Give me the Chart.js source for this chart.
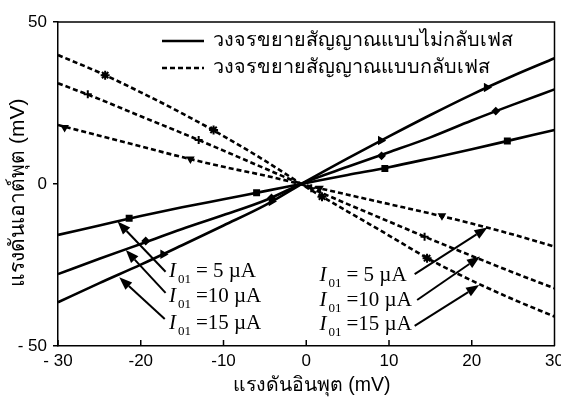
<!DOCTYPE html>
<html><head><meta charset="utf-8">
<script src="https://cdn.jsdelivr.net/npm/chart.js@4.4.1/dist/chart.umd.min.js"></script>
<style>html,body{margin:0;padding:0;background:#fff}#wrap{width:561px;height:403px}</style>
</head><body><div id="wrap"><canvas id="c"></canvas></div>
<script>
// input voltage (mV)
const inputMv = [-30,-25,-20,-15,-10,-5,0,5,10,15,20,25,30];
// non-inverting amplifier output (mV), solid lines
const nonInv5  = [-15.7,-12.8,-9.9,-7.2,-4.7,-2.2,0.3,2.8,5.2,7.9,10.7,13.7,16.7];
const nonInv10 = [-27.8,-23.1,-18.5,-13.9,-9.6,-5.1,0.7,5.3,9.8,14.4,19.6,24.5,29.2];
const nonInv15 = [-36.5,-30.6,-24.9,-18.9,-12.8,-6.6,0.85,7.9,14.7,21.3,27.6,33.4,38.8];
// inverting amplifier output (mV), dashed lines
const inv5  = [18.2,14.9,11.6,8.3,5.3,2.6,-0.4,-3.3,-6.2,-9.1,-12.2,-15.6,-19.3];
const inv10 = [31.1,26.2,20.9,15.7,10.3,4.8,-0.7,-6.2,-11.6,-17.0,-22.2,-27.3,-32.2];
const inv15 = [39.8,34.4,28.3,21.8,14.8,7.2,-0.95,-8.5,-15.9,-23.4,-29.8,-35.6,-40.9];

// marker samples along each curve
const markNonInv5X  = [-21.4,-6.0,9.5,24.3];   const markNonInv5Y  = [-10.6,-2.7,4.8,13.3];
const markNonInv10X = [-19.4,-4.2,9.1,22.9];   const markNonInv10Y = [-17.6,-4.3,8.7,22.5];
const markNonInv15X = [-17.3,-4.2,9.0,21.8];   const markNonInv15Y = [-21.7,-5.4,13.4,29.8];
const markInv5X  = [-29.2,-14.0,1.6,16.4];     const markInv5Y  = [17.4,7.7,-1.3,-9.8];
const markInv10X = [-26.4,-13.0,0.6,14.3];     const markInv10Y = [27.7,13.6,-1.3,-16.3];
const markInv15X = [-24.3,-11.2,1.9,14.6];     const markInv15Y = [33.6,16.7,-3.9,-22.9];

const xTickText = ['- 30','-20','-10','0','10','20','30'];
const yTickText = ['- 50','0','50'];
const legendText = ['วงจรขยายสัญญาณแบบไม่กลับเฟส','วงจรขยายสัญญาณแบบกลับเฟส'];
const currentText = ['= 5 µA','=10 µA','=15 µA'];
const NB = '\u00A0';

const SANS = '"Liberation Sans", "DejaVu Sans", Arial, sans-serif';
const SERIF = '"Liberation Serif", "DejaVu Serif", serif';

const pts = ys => inputMv.map((x, i) => ({x, y: ys[i]}));
const mpts = (xs, ys) => xs.map((x, i) => ({x, y: ys[i]}));

function curve(ys, dashed) {
  return {type: 'line', data: pts(ys), borderColor: '#000', borderWidth: 2.6,
    borderDash: dashed ? [5, 3] : [], pointRadius: 0, cubicInterpolationMode: 'monotone', fill: false};
}
function marks(xs, ys, style, r, rot) {
  return {type: 'scatter', data: mpts(xs, ys), showLine: false, pointStyle: style,
    pointRadius: r, pointRotation: rot || 0, backgroundColor: '#000', borderColor: '#000', borderWidth: 2};
}

function arrow(ctx, x1, y1, x2, y2) {
  const ang = Math.atan2(y2 - y1, x2 - x1), L = 13, W = 5;
  const bx = x2 - L * Math.cos(ang), by = y2 - L * Math.sin(ang);
  ctx.beginPath(); ctx.moveTo(x1, y1); ctx.lineTo(bx, by); ctx.stroke();
  ctx.beginPath(); ctx.moveTo(x2, y2);
  ctx.lineTo(bx + W * Math.sin(ang), by - W * Math.cos(ang));
  ctx.lineTo(bx - W * Math.sin(ang), by + W * Math.cos(ang));
  ctx.closePath(); ctx.fill();
}

function currentLabel(ctx, px, py, text) {
  ctx.textAlign = 'left'; ctx.textBaseline = 'alphabetic';
  ctx.font = 'italic 21px ' + SERIF; ctx.fillText('I', px, py);
  ctx.font = '13px ' + SERIF; ctx.fillText('01', px + 9, py + 6);
  ctx.font = '21px ' + SERIF; ctx.fillText(text, px + 27, py);
}

// label anchors and arrow ends, in axis units (mV)
const leftLabels  = [[-16.6,-28.7],[-16.6,-36.4],[-16.6,-44.8]];
const rightLabels = [[1.6,-29.9],[1.6,-37.7],[1.6,-45.1]];
const leftArrows  = [[-17.0,-27.1,-22.8,-11.6],[-17.0,-33.6,-21.8,-20.4],[-17.1,-41.7,-22.6,-28.8]];
const rightArrows = [[13.1,-27.8,21.9,-13.4],[13.4,-35.8,21.0,-22.4],[13.1,-43.8,20.9,-31.2]];

const overlay = {
  id: 'overlay',
  afterDraw(chart) {
    const {ctx, chartArea: a, scales: {x, y}} = chart;
    ctx.save();
    ctx.strokeStyle = '#000'; ctx.fillStyle = '#000'; ctx.lineWidth = 1.5;
    ctx.beginPath();
    ctx.moveTo(a.left, a.top); ctx.lineTo(a.right, a.top); ctx.lineTo(a.right, a.bottom);
    x.ticks.forEach(t => { const px = x.getPixelForValue(t.value); ctx.moveTo(px, a.bottom); ctx.lineTo(px, a.bottom - 6); });
    ctx.stroke();

    // legend
    const lx = a.left + 104, ly = [a.top + 19, a.top + 46];
    ctx.lineWidth = 2.6;
    ctx.beginPath(); ctx.moveTo(lx, ly[0]); ctx.lineTo(lx + 42, ly[0]); ctx.stroke();
    ctx.setLineDash([5, 3]);
    ctx.beginPath(); ctx.moveTo(lx, ly[1]); ctx.lineTo(lx + 42, ly[1]); ctx.stroke();
    ctx.setLineDash([]);
    ctx.font = '19.8px ' + SANS; ctx.textBaseline = 'middle'; ctx.textAlign = 'left';
    ctx.fillText(legendText[0], lx + 51, ly[0]);
    ctx.fillText(legendText[1], lx + 51, ly[1]);

    // current annotations
    ctx.lineWidth = 2;
    leftLabels.forEach((p, i) => currentLabel(ctx, x.getPixelForValue(p[0]), y.getPixelForValue(p[1]), currentText[i]));
    rightLabels.forEach((p, i) => currentLabel(ctx, x.getPixelForValue(p[0]), y.getPixelForValue(p[1]), currentText[i]));
    leftArrows.concat(rightArrows).forEach(r => arrow(ctx,
      x.getPixelForValue(r[0]), y.getPixelForValue(r[1]), x.getPixelForValue(r[2]), y.getPixelForValue(r[3])));
    ctx.restore();
  }
};

new Chart(document.getElementById('c'), {
  type: 'line',
  data: {datasets: [
    curve(nonInv5, false), curve(nonInv10, false), curve(nonInv15, false),
    curve(inv5, true), curve(inv10, true), curve(inv15, true),
    marks(markNonInv5X, markNonInv5Y, 'rect', 3.5),
    marks(markNonInv10X, markNonInv10Y, 'rectRot', 3),
    marks(markNonInv15X, markNonInv15Y, 'triangle', 3.5, 90),
    marks(markInv5X, markInv5Y, 'triangle', 3, 180),
    marks(markInv10X, markInv10Y, 'cross', 4),
    marks(markInv15X, markInv15Y, 'star', 4.5)
  ]},
  options: {
    responsive: true, maintainAspectRatio: false, animation: false,
    layout: {padding: {top: 22, right: 2, left: 0, bottom: 0}},
    plugins: {legend: {display: false}, tooltip: {enabled: false}},
    scales: {
      x: {type: 'linear', min: -30, max: 30,
        ticks: {stepSize: 10, color: '#000', font: {family: SANS, size: 17}, padding: 5, maxRotation: 0,
          callback: (v, i) => xTickText[i]},
        grid: {display: true, drawOnChartArea: false, drawTicks: false},
        border: {display: true, color: '#000', width: 1.5},
        title: {display: true, text: NB + NB + 'แรงดันอินพุต (mV)', color: '#000', font: {family: SANS, size: 19.5}, padding: {top: 1, bottom: 6}},
        afterFit: s => { s.height = 57; s.paddingLeft = 0; s.paddingRight = 0; }
      },
      y: {type: 'linear', min: -50, max: 50,
        ticks: {stepSize: 50, color: '#000', font: {family: SANS, size: 17}, padding: 6,
          callback: (v, i) => yTickText[i]},
        grid: {display: true, drawOnChartArea: false, drawTicks: true, tickLength: 5, color: '#000', lineWidth: 1.5},
        border: {display: true, color: '#000', width: 1.5},
        title: {display: true, text: 'แรงดันเอาต์พุต (mV)' + NB + NB + NB, color: '#000', font: {family: SANS, size: 21}, padding: {top: 6, bottom: 1}},
        afterFit: s => { s.width = 58; s.paddingTop = 0; s.paddingBottom = 0; }
      }
    }
  },
  plugins: [overlay]
});
</script>
</body></html>
